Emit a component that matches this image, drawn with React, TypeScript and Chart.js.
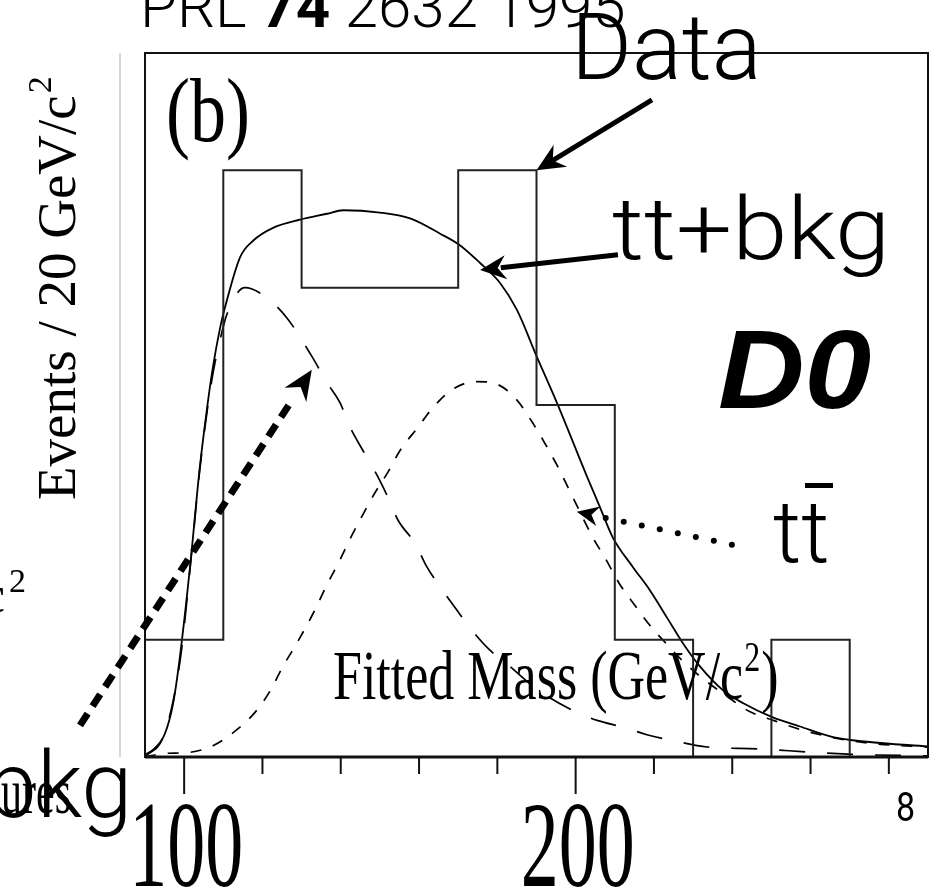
import React, { useEffect, useRef } from "react";
import { Chart, registerables } from "chart.js";

Chart.register(...registerables);

// ---- Data ----
const binEdges = [90, 110, 130, 150, 170, 190, 210, 230, 250, 270, 290];
const dataCounts = [1, 5, 4, 4, 5, 3, 1, 0, 1, 0];

const fitMass = [90, 92, 95.1, 97.2, 98.9, 101.5, 104, 105.8, 107.1, 109.2, 110.9, 114.3, 117.6, 122.7, 129.6, 136.5, 140.6, 150, 157.7, 165.4, 170.5, 175.6, 180.7, 185, 190.1, 195.2, 202.9, 206.2, 209.5, 214.6, 219, 223.3, 227.4, 231.8, 237.6, 242.7, 250.2, 257.3, 265.7, 274.4, 290];
const fitTotal = [0.02, 0.06, 0.2, 0.46, 0.85, 1.62, 2.47, 2.96, 3.27, 3.66, 3.89, 4.26, 4.4, 4.51, 4.58, 4.63, 4.66, 4.64, 4.59, 4.46, 4.36, 4.21, 4.04, 3.81, 3.41, 3.02, 2.39, 2.13, 1.87, 1.62, 1.42, 1.19, 0.97, 0.77, 0.57, 0.46, 0.34, 0.26, 0.17, 0.13, 0.09];

const bkgMass = [90, 95, 99, 101.5, 104, 107, 109.2, 111, 115.5, 120.9, 126.3, 132.7, 136.5, 139.8, 142.4, 145.7, 149.3, 152.1, 154.6, 159, 162, 165.4, 169.7, 173.5, 178.1, 181.9, 190, 200.3, 205.7, 212.6, 218.2, 224.9, 233.6, 246.3, 260.6, 273.4, 290];
const bkgVal = [0, 0.2, 0.83, 1.6, 2.45, 3.2, 3.56, 3.78, 4.0, 3.92, 3.74, 3.41, 3.19, 3.02, 2.81, 2.61, 2.4, 2.21, 2.02, 1.82, 1.62, 1.45, 1.25, 1.08, 0.91, 0.81, 0.58, 0.38, 0.31, 0.25, 0.19, 0.14, 0.085, 0.07, 0.04, 0.02, 0.01];

const ttMass = [90, 94.9, 101.5, 107.6, 113, 118.1, 121.9, 125.2, 128.6, 133.2, 136.5, 139.8, 142.4, 145.4, 148.7, 152.1, 155.1, 159.7, 163.6, 168.4, 174.5, 179.7, 184.8, 188.6, 192.2, 195.5, 198.6, 204.4, 207.8, 211.3, 215.2, 219, 223.6, 227.9, 232.8, 238.1, 244.3, 250.7, 257.8, 263.7, 270.1, 277.2, 290];
const ttVal = [0, 0.03, 0.04, 0.1, 0.22, 0.38, 0.56, 0.77, 0.96, 1.24, 1.47, 1.68, 1.86, 2.05, 2.25, 2.43, 2.61, 2.81, 2.98, 3.13, 3.2, 3.18, 3.05, 2.87, 2.67, 2.47, 2.26, 1.87, 1.68, 1.47, 1.29, 1.12, 0.95, 0.8, 0.66, 0.53, 0.39, 0.31, 0.23, 0.18, 0.14, 0.11, 0.085];

const tickValues = [100, 120, 140, 160, 180, 200, 220, 240, 260, 280];
const tickLabels = [100, 200];

const X_MIN = 90;
const X_MAX = 290;
const Y_MAX = 6;

const SANS = 'Roboto, "Liberation Sans", sans-serif';
const SERIF = '"Liberation Serif", "DejaVu Serif", serif';

function zip(xs: number[], ys: number[]) {
  return xs.map((x, i) => ({ x, y: ys[i] }));
}

function stretchText(ctx: CanvasRenderingContext2D, text: string, x: number, y: number, sy: number, sx = 1) {
  ctx.save();
  ctx.translate(x, y);
  ctx.scale(sx, sy);
  ctx.fillText(text, 0, 0);
  ctx.restore();
}

function arrowHead(ctx: CanvasRenderingContext2D, x0: number, y0: number, x1: number, y1: number, len: number, halfW: number) {
  const a = Math.atan2(y1 - y0, x1 - x0);
  ctx.save();
  ctx.translate(x1, y1);
  ctx.rotate(a);
  ctx.beginPath();
  ctx.moveTo(0, 0);
  ctx.lineTo(-len, -halfW);
  ctx.lineTo(-len * 0.68, 0);
  ctx.lineTo(-len, halfW);
  ctx.closePath();
  ctx.fill();
  ctx.restore();
}

const overlay = {
  id: "overlay",
  afterDraw(chart: any) {
    const { ctx, chartArea: a, scales } = chart;
    const px = (v: number) => scales.x.getPixelForValue(v);
    const py = (v: number) => scales.y.getPixelForValue(v);
    ctx.save();

    // neighbouring panel border (gray)
    ctx.strokeStyle = "#c8c8c8";
    ctx.lineWidth = 1.5;
    ctx.beginPath();
    ctx.moveTo(120, a.top);
    ctx.lineTo(120, a.bottom);
    ctx.stroke();

    // frame
    ctx.strokeStyle = "#111";
    ctx.lineWidth = 2;
    ctx.strokeRect(a.left, a.top, a.right - a.left, a.bottom - a.top);
    ctx.lineWidth = 3;
    ctx.beginPath();
    ctx.moveTo(a.left, a.bottom);
    ctx.lineTo(a.right, a.bottom);
    ctx.stroke();

    // ticks
    ctx.lineWidth = 2;
    for (const t of tickValues) {
      const len = tickLabels.includes(t) ? 37 : 17;
      ctx.beginPath();
      ctx.moveTo(px(t), a.bottom);
      ctx.lineTo(px(t), a.bottom + len);
      ctx.stroke();
    }

    ctx.fillStyle = "#000";
    ctx.textBaseline = "alphabetic";

    // tick labels (tall serif)
    ctx.font = `76px ${SERIF}`;
    ctx.textAlign = "center";
    for (const t of tickLabels) stretchText(ctx, String(t), px(t) + 2, 886, 1.62);

    ctx.textAlign = "left";

    // page number
    ctx.font = `34px ${SANS}`;
    stretchText(ctx, "8", 896, 821, 1.2);

    // "ures" fragment
    ctx.font = `42px ${SERIF}`;
    stretchText(ctx, "ures", 1, 813, 1.5);

    // bkg label
    ctx.font = `300 92px ${SANS}`;
    ctx.fillText("bkg", -14, 817);

    // c^2 fragment at left edge
    ctx.font = `52px ${SERIF}`;
    ctx.fillText("c", -18, 612);
    ctx.font = `34px ${SERIF}`;
    ctx.fillText("2", 9, 592);

    // PRL reference
    ctx.font = `300 60px ${SANS}`;
    let xx = 140;
    ctx.fillText("PRL ", xx, 27);
    xx += ctx.measureText("PRL ").width;
    ctx.font = `bold 60px ${SANS}`;
    ctx.fillText("74", xx, 27);
    xx += ctx.measureText("74").width;
    ctx.font = `300 60px ${SANS}`;
    ctx.fillText(" 2632 1995", xx, 27);

    // Data
    ctx.font = `300 93px ${SANS}`;
    ctx.fillText("Data", 571, 79);

    // (b)
    ctx.font = `72px ${SERIF}`;
    stretchText(ctx, "(b)", 166, 141, 1.25);

    // tt+bkg
    ctx.font = `300 88px ${SANS}`;
    stretchText(ctx, "tt+bkg", 612, 259, 1, 1.13);

    // D0
    ctx.font = `italic bold 112px "Liberation Sans", Arial, sans-serif`;
    stretchText(ctx, "D0", 718, 408, 1, 1.07);

    // t tbar
    ctx.font = `300 88px ${SANS}`;
    ctx.fillText("tt", 773, 562);
    ctx.fillRect(805, 483, 28, 5);

    // Fitted Mass (GeV/c^2)
    const FS = 1.35;
    ctx.font = `52px ${SERIF}`;
    let fx = 333;
    stretchText(ctx, "Fitted Mass (GeV/c", fx, 699, FS);
    fx += ctx.measureText("Fitted Mass (GeV/c").width;
    ctx.font = `32px ${SERIF}`;
    stretchText(ctx, "2", fx + 1, 671, FS);
    fx += ctx.measureText("2").width + 2;
    ctx.font = `52px ${SERIF}`;
    stretchText(ctx, ")", fx, 699, FS);

    // y axis title (rotated)
    ctx.save();
    ctx.translate(75, 500);
    ctx.rotate(-Math.PI / 2);
    ctx.font = `55px ${SERIF}`;
    ctx.fillText("Events / 20 GeV/c", 0, 0);
    const w = ctx.measureText("Events / 20 GeV/c").width;
    ctx.font = `34px ${SERIF}`;
    ctx.fillText("2", w + 2, -24);
    ctx.restore();

    // Arrows
    ctx.strokeStyle = "#000";
    ctx.fillStyle = "#000";
    // Data arrow
    {
      const x0 = px(219.5), y0 = py(5.6), x1 = px(190), y1 = py(5);
      ctx.lineWidth = 5;
      ctx.beginPath();
      ctx.moveTo(x0, y0);
      ctx.lineTo(x1 + (x0 - x1) * 0.12, y1 + (y0 - y1) * 0.12);
      ctx.stroke();
      arrowHead(ctx, x0, y0, x1, y1, 28, 13);
    }
    // tt+bkg arrow
    {
      const x0 = px(210.8), y0 = py(4.28), x1 = px(175.6), y1 = py(4.15);
      ctx.lineWidth = 5;
      ctx.beginPath();
      ctx.moveTo(x0, y0);
      ctx.lineTo(x1 + (x0 - x1) * 0.15, y1 + (y0 - y1) * 0.15);
      ctx.stroke();
      arrowHead(ctx, x0, y0, x1, y1, 26, 12);
    }
    // t tbar dotted arrow
    {
      const x0 = px(239.9), y0 = py(1.81), x1 = px(200.3), y1 = py(2.09);
      const n = 8;
      for (let i = 0; i < n; i++) {
        const f = i / n;
        const cx = x0 + (x1 - x0) * f * 0.93;
        const cy = y0 + (y1 - y0) * f * 0.93;
        ctx.beginPath();
        ctx.arc(cx, cy, 3, 0, Math.PI * 2);
        ctx.fill();
      }
      arrowHead(ctx, x0, y0, x1, y1, 22, 10);
    }
    // bkg thick dashed arrow
    {
      const x0 = px(73.4), y0 = py(0.27), x1 = px(132.6), y1 = py(3.3);
      ctx.lineWidth = 7;
      ctx.setLineDash([14, 9]);
      ctx.beginPath();
      ctx.moveTo(x0, y0);
      ctx.lineTo(x1 + (x0 - x1) * 0.08, y1 + (y0 - y1) * 0.08);
      ctx.stroke();
      ctx.setLineDash([]);
      arrowHead(ctx, x0, y0, x1, y1, 30, 13);
    }

    ctx.restore();
  },
};

export default function App() {
  const ref = useRef<HTMLCanvasElement>(null);
  useEffect(() => {
    const canvas = ref.current;
    if (!canvas) return;
    const histPoints = binEdges.map((e, i) => ({ x: e, y: i < dataCounts.length ? dataCounts[i] : 0 }));
    const chart = new Chart(canvas, {
      type: "line",
      data: {
        datasets: [
          {
            label: "Data",
            data: histPoints,
            stepped: true,
            borderColor: "#222",
            borderWidth: 2,
            pointRadius: 0,
            fill: false,
          },
          {
            label: "tt+bkg",
            data: zip(fitMass, fitTotal),
            borderColor: "#000",
            borderWidth: 1.8,
            pointRadius: 0,
            cubicInterpolationMode: "monotone",
            fill: false,
          },
          {
            label: "bkg",
            data: zip(bkgMass, bkgVal),
            borderColor: "#000",
            borderWidth: 1.7,
            borderDash: [26, 22],
            pointRadius: 0,
            cubicInterpolationMode: "monotone",
            fill: false,
          },
          {
            label: "tt",
            data: zip(ttMass, ttVal),
            borderColor: "#000",
            borderWidth: 1.7,
            borderDash: [11, 12],
            pointRadius: 0,
            cubicInterpolationMode: "monotone",
            fill: false,
          },
        ],
      },
      options: {
        animation: false,
        responsive: false,
        devicePixelRatio: 1,
        layout: { padding: { left: 145, right: 13, top: 53, bottom: 132 } },
        plugins: { legend: { display: false }, tooltip: { enabled: false } },
        scales: {
          x: { type: "linear", min: X_MIN, max: X_MAX, display: false },
          y: { type: "linear", min: 0, max: Y_MAX, display: false },
        },
      },
      plugins: [overlay],
    } as any);
    return () => chart.destroy();
  }, []);
  return (
    <div style={{ position: "absolute", left: 0, top: 0, width: 941, height: 889, background: "#fff", overflow: "hidden" }}>
      <canvas ref={ref} width={941} height={889} style={{ display: "block" }} />
    </div>
  );
}
